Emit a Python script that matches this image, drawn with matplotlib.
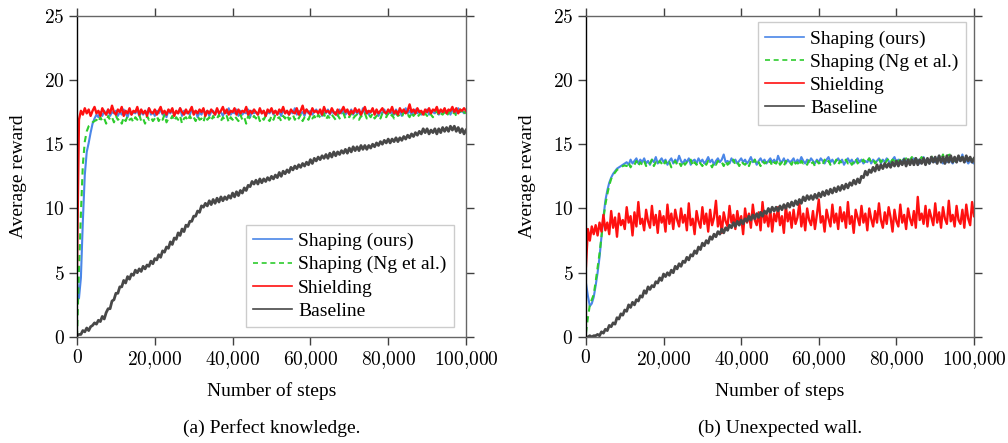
import matplotlib
matplotlib.use('Agg')
import matplotlib.pyplot as plt
import numpy as np
from matplotlib.ticker import FuncFormatter

# 数据：每 500 步一个点（0 ~ 100,000）
STEP = 500

# (a) Perfect knowledge
a_ours = [4.5, 3.0, 4.6, 9.0, 12.6, 14.4, 15.1, 15.9, 16.6, 17.0,
          17.3, 17.1, 17.5, 17.2, 17.6, 17.3, 17.7, 17.2, 17.5, 17.4,
          17.6, 17.2, 17.5, 17.3, 17.7, 17.4, 17.1, 17.6, 17.3, 17.5,
          17.4, 17.7, 17.2, 17.5, 17.3, 17.6, 17.4, 17.8, 17.3, 17.5,
          17.2, 17.6, 17.4, 17.7, 17.3, 17.5, 17.1, 17.6, 17.4, 17.7,
          17.3, 17.5, 17.4, 17.8, 17.2, 17.6, 17.4, 17.5, 17.3, 17.7,
          17.4, 17.6, 17.1, 17.5, 17.3, 17.7, 17.4, 17.6, 17.2, 17.5,
          17.6, 17.3, 17.7, 17.4, 17.5, 17.2, 17.6, 17.4, 17.8, 17.3,
          17.5, 17.4, 17.7, 17.2, 17.6, 17.3, 17.5, 17.4, 17.7, 17.1,
          17.6, 17.4, 17.5, 17.3, 17.7, 17.4, 17.6, 17.2, 17.5, 17.4,
          17.7, 17.3, 17.6, 17.4, 17.5, 17.2, 17.7, 17.4, 17.6, 17.3,
          17.5, 17.4, 17.8, 17.3, 17.6, 17.4, 17.5, 17.2, 17.7, 17.4,
          17.6, 17.3, 17.5, 17.7, 17.4, 17.6, 17.2, 17.5, 17.4, 17.7,
          17.3, 17.6, 17.4, 17.5, 17.2, 17.7, 17.4, 17.6, 17.3, 17.5,
          17.4, 17.7, 17.3, 17.6, 17.4, 17.5, 17.2, 17.8, 17.4, 17.6,
          17.3, 17.5, 17.7, 17.4, 17.6, 17.2, 17.5, 17.4, 17.7, 17.3,
          17.6, 17.4, 17.5, 17.3, 17.7, 17.4, 17.6, 17.2, 17.5, 17.8,
          17.4, 17.6, 17.3, 17.5, 17.7, 17.4, 17.6, 17.3, 17.5, 17.4,
          17.7, 17.3, 17.6, 17.5, 17.4, 17.8, 17.3, 17.6, 17.5, 17.7,
          17.4, 17.6, 17.3, 17.7, 17.5, 17.4, 17.8, 17.5, 17.6, 17.4,
          17.6]

a_ng = [0.0, 5.2, 9.6, 13.4, 15.2, 16.0, 16.4, 16.5, 16.7, 16.8,
        16.9, 16.7, 17.1, 16.8, 17.0, 16.6, 17.2, 16.9, 17.1, 16.7,
        17.2, 16.9, 17.0, 16.6, 17.1, 16.8, 17.2, 16.9, 17.0, 16.7,
        17.1, 16.9, 17.3, 16.8, 17.0, 16.6, 17.2, 16.9, 17.1, 16.8,
        17.0, 17.2, 16.8, 17.1, 16.9, 17.3, 16.7, 17.0, 16.9, 17.2,
        16.8, 17.1, 16.9, 17.2, 16.6, 17.0, 17.1, 16.8, 17.2, 16.9,
        17.1, 16.8, 17.2, 16.9, 17.0, 16.7, 17.3, 16.9, 17.1, 16.8,
        17.2, 16.9, 17.0, 17.3, 16.8, 17.1, 16.9, 17.2, 16.7, 17.1,
        16.9, 17.2, 17.0, 16.8, 17.3, 16.9, 17.1, 16.6, 17.2, 17.0,
        16.9, 17.2, 17.0, 17.3, 16.8, 17.1, 16.9, 17.2, 17.0, 16.8,
        17.2, 16.9, 17.3, 17.0, 17.1, 16.8, 17.2, 17.0, 17.3, 16.9,
        17.1, 17.3, 16.9, 17.2, 17.0, 17.3, 16.8, 17.1, 17.2, 16.9,
        17.3, 17.0, 17.2, 16.9, 17.3, 17.1, 17.0, 17.4, 16.9, 17.2,
        17.0, 17.3, 17.1, 16.9, 17.3, 17.0, 17.2, 17.4, 17.0, 17.2,
        17.1, 17.4, 17.0, 17.2, 17.3, 16.9, 17.2, 17.1, 17.4, 17.0,
        17.3, 17.1, 17.4, 17.0, 17.2, 17.3, 17.0, 17.4, 17.2, 17.1,
        17.4, 17.1, 17.3, 17.0, 17.4, 17.2, 17.3, 17.1, 17.5, 17.2,
        17.3, 17.1, 17.5, 17.2, 17.4, 17.1, 17.3, 17.5, 17.2, 17.4,
        17.2, 17.5, 17.3, 17.1, 17.4, 17.6, 17.2, 17.4, 17.3, 17.5,
        17.2, 17.4, 17.6, 17.3, 17.5, 17.2, 17.4, 17.7, 17.3, 17.5,
        17.4]

a_shield = [5.5, 16.9, 17.6, 17.3, 17.8, 17.4, 17.7, 17.2, 17.6, 17.9,
            17.4, 17.6, 17.2, 17.8, 17.5, 17.3, 17.7, 17.4, 18.0, 17.5,
            17.3, 17.7, 17.5, 17.9, 17.2, 17.6, 17.4, 17.8, 17.3, 17.6,
            17.5, 17.9, 17.3, 17.7, 17.4, 17.6, 17.2, 17.8, 17.5, 17.4,
            17.7, 17.3, 17.6, 17.9, 17.4, 17.6, 17.3, 17.7, 17.5, 17.8,
            17.2, 17.6, 17.4, 17.8, 17.5, 17.3, 17.7, 17.4, 17.6, 17.9,
            17.3, 17.6, 17.4, 17.7, 17.5, 17.8, 17.2, 17.6, 17.4, 17.7,
            17.5, 17.3, 17.8, 17.4, 17.6, 17.9, 17.4, 17.7, 17.3, 17.6,
            17.5, 17.8, 17.3, 17.7, 17.4, 17.6, 17.5, 17.9, 17.3, 17.6,
            17.4, 17.7, 17.5, 17.3, 17.8, 17.4, 17.6, 17.2, 17.7, 17.5,
            17.8, 17.4, 17.6, 17.3, 17.7, 17.5, 17.9, 17.4, 17.6, 17.3,
            17.7, 17.5, 17.4, 17.8, 17.3, 17.6, 18.0, 17.4, 17.7, 17.5,
            17.3, 17.8, 17.5, 17.6, 17.4, 17.7, 17.3, 17.9, 17.5, 17.6,
            17.4, 17.8, 17.5, 17.3, 17.7, 17.4, 17.6, 17.9, 17.5, 17.7,
            17.3, 17.6, 17.4, 17.8, 17.5, 17.7, 17.3, 17.6, 17.9, 17.4,
            17.6, 17.5, 17.8, 17.3, 17.7, 17.4, 17.6, 17.8, 17.5, 17.4,
            17.7, 17.5, 17.9, 17.4, 17.6, 17.3, 17.8, 17.5, 17.7, 17.4,
            17.6, 18.1, 17.5, 17.7, 17.4, 17.8, 17.5, 17.6, 17.3, 17.7,
            17.5, 17.8, 17.4, 17.7, 17.6, 17.9, 17.4, 17.7, 17.5, 17.8,
            17.4, 17.7, 17.6, 17.9, 17.5, 17.8, 17.4, 17.7, 17.6, 17.8,
            17.6]

a_base = [0.1, 0.2, 0.2, 0.5, 0.4, 0.7, 0.5, 0.8, 0.9, 1.1,
          1.0, 1.3, 1.2, 1.6, 1.4, 1.9, 2.2, 2.2, 2.8, 2.9,
          3.4, 3.4, 3.9, 3.9, 4.4, 4.2, 4.7, 4.5, 4.9, 4.8,
          5.2, 5.0, 5.3, 5.1, 5.5, 5.3, 5.6, 5.5, 5.9, 5.7,
          6.1, 6.0, 6.4, 6.2, 6.7, 6.6, 7.0, 6.9, 7.4, 7.2,
          7.7, 7.6, 8.1, 7.9, 8.4, 8.2, 8.7, 8.6, 9.0, 9.0,
          9.4, 9.4, 9.8, 9.7, 10.2, 10.1, 10.4, 10.2, 10.6, 10.3,
          10.7, 10.4, 10.8, 10.5, 10.9, 10.6, 10.9, 10.7, 11.0, 10.8,
          11.2, 10.9, 11.3, 11.0, 11.4, 11.2, 11.6, 11.4, 11.8, 11.7,
          12.1, 11.9, 12.2, 11.9, 12.3, 12.0, 12.3, 12.1, 12.4, 12.2,
          12.5, 12.3, 12.6, 12.4, 12.8, 12.5, 12.9, 12.7, 13.0, 12.8,
          13.2, 13.0, 13.3, 13.1, 13.4, 13.2, 13.5, 13.3, 13.6, 13.4,
          13.8, 13.5, 13.9, 13.7, 14.0, 13.8, 14.1, 13.9, 14.2, 13.9,
          14.3, 14.0, 14.4, 14.1, 14.4, 14.2, 14.5, 14.3, 14.6, 14.3,
          14.7, 14.4, 14.8, 14.5, 14.8, 14.5, 14.9, 14.6, 14.9, 14.6,
          14.9, 14.7, 15.0, 14.8, 15.1, 14.9, 15.2, 15.0, 15.3, 15.1,
          15.4, 15.1, 15.4, 15.2, 15.5, 15.2, 15.5, 15.3, 15.6, 15.4,
          15.7, 15.5, 15.8, 15.6, 15.9, 15.7, 16.0, 15.8, 16.2, 15.9,
          16.2, 15.8, 16.1, 15.9, 16.2, 15.8, 16.2, 15.9, 16.3, 16.0,
          16.3, 16.0, 16.4, 16.1, 16.4, 16.0, 16.3, 15.9, 16.2, 15.8,
          16.1]

# (b) Unexpected wall
b_ours = [4.2, 3.2, 2.4, 2.6, 3.1, 4.0, 5.0, 6.2, 7.8, 9.3,
          10.6, 11.4, 12.0, 12.4, 12.7, 12.9, 13.1, 13.2, 13.3, 13.4,
          13.5, 13.6, 13.4, 13.8, 13.5, 13.7, 13.9, 13.5, 13.8, 13.6,
          13.9, 13.5, 13.7, 13.4, 13.8, 13.6, 14.0, 13.5, 13.7, 13.9,
          13.6, 13.8, 13.4, 13.7, 13.9, 13.5, 13.8, 13.6, 14.1, 13.7,
          13.5, 13.8, 13.6, 13.9, 13.4, 13.7, 13.8, 13.5, 13.9, 13.6,
          13.8, 13.5, 13.7, 14.0, 13.6, 13.8, 13.4, 13.7, 13.9, 13.6,
          13.8, 14.2, 13.6, 13.7, 13.5, 13.9, 13.6, 13.8, 13.5, 13.7,
          13.9, 13.6, 13.8, 13.5, 13.7, 14.0, 13.6, 13.8, 13.4, 13.7,
          13.9, 13.6, 13.8, 13.5, 13.7, 13.9, 13.6, 13.8, 13.5, 14.1,
          13.7, 13.6, 13.9, 13.5, 13.8, 13.6, 13.7, 13.9, 13.5, 13.8,
          13.6, 14.0, 13.7, 13.5, 13.8, 13.6, 13.9, 13.7, 13.5, 13.8,
          13.6, 13.9, 13.7, 13.5, 13.8, 14.0, 13.6, 13.8, 13.5, 13.7,
          13.9, 13.6, 13.8, 13.4, 13.7, 13.9, 13.6, 13.8, 13.5, 13.7,
          13.9, 13.6, 13.8, 13.5, 13.7, 13.6, 13.9, 13.5, 13.8, 13.6,
          13.7, 13.9, 13.5, 13.8, 13.6, 13.9, 13.7, 13.5, 13.8, 14.0,
          13.6, 13.8, 13.5, 13.7, 13.9, 13.6, 13.8, 13.5, 13.7, 13.9,
          13.6, 13.8, 13.5, 13.7, 14.0, 13.6, 13.8, 13.5, 13.7, 13.9,
          13.6, 13.8, 14.1, 13.7, 13.5, 13.8, 13.6, 13.9, 13.7, 13.5,
          13.8, 13.6, 13.9, 13.7, 14.2, 13.6, 13.8, 13.5, 13.7, 13.6,
          13.5]

b_ng = [0.3, 1.5, 2.5, 2.9, 3.3, 4.3, 5.4, 6.5, 7.8, 9.2,
        10.3, 11.1, 11.8, 12.3, 12.6, 12.8, 13.0, 13.1, 13.2, 13.3,
        13.35, 13.3, 13.6, 13.2, 13.5, 13.4, 13.7, 13.3, 13.6, 13.4,
        13.7, 13.3, 13.6, 13.5, 13.8, 13.3, 13.6, 13.4, 13.7, 13.5,
        13.3, 13.7, 13.4, 13.6, 13.2, 13.5, 13.7, 13.4, 13.6, 13.3,
        13.7, 13.4, 13.6, 13.5, 13.8, 13.3, 13.6, 13.4, 13.7, 13.5,
        13.3, 13.6, 13.4, 13.7, 13.5, 13.2, 13.6, 13.4, 13.7, 13.5,
        13.6, 13.3, 13.7, 13.4, 13.6, 13.5, 13.8, 13.4, 13.6, 13.3,
        13.7, 13.5, 13.4, 13.6, 13.3, 13.7, 13.5, 13.8, 13.4, 13.6,
        13.3, 13.7, 13.5, 13.6, 13.4, 13.7, 13.3, 13.6, 13.5, 13.8,
        13.4, 13.6, 13.3, 13.7, 13.5, 13.6, 13.4, 13.8, 13.5, 13.6,
        13.3, 13.7, 13.5, 13.6, 13.4, 13.8, 13.5, 13.6, 13.3, 13.7,
        13.5, 13.6, 13.4, 13.8, 13.5, 13.7, 13.4, 13.6, 13.5, 13.8,
        13.4, 13.7, 13.5, 13.6, 13.8, 13.5, 13.7, 13.4, 13.6, 13.9,
        13.5, 13.7, 13.6, 13.8, 13.5, 13.7, 13.9, 13.6, 13.8, 13.5,
        13.7, 13.9, 13.6, 13.8, 13.5, 13.7, 13.9, 13.6, 13.8, 13.7,
        13.9, 13.6, 13.8, 14.0, 13.7, 13.9, 13.6, 13.8, 14.0, 13.7,
        13.9, 13.6, 13.8, 14.0, 13.7, 13.9, 13.6, 13.8, 14.1, 13.7,
        13.9, 13.7, 14.0, 13.8, 14.2, 13.7, 13.9, 14.4, 13.8, 14.0,
        13.7, 13.9, 14.1, 13.8, 14.0, 13.7, 13.9, 13.8, 14.0, 13.7,
        13.9]

b_shield = [5.5, 8.4, 7.5, 8.6, 8.0, 8.7, 7.9, 8.9, 8.2, 9.5,
            8.3, 8.9, 8.0, 9.8, 8.5, 9.3, 7.8, 9.6, 8.7, 9.1,
            8.4, 10.1, 8.9, 9.4, 7.9, 9.7, 8.6, 10.5, 8.8, 9.2,
            8.3, 9.9, 9.0, 8.5, 10.2, 8.7, 9.5, 8.1, 9.8, 8.9,
            9.4, 8.2, 10.3, 8.8, 9.6, 8.4, 9.9, 9.1, 8.6, 10.0,
            8.9, 9.5, 8.3, 10.4, 8.7, 9.2, 8.0, 9.8, 9.0, 8.5,
            10.1, 8.8, 9.6, 8.2, 9.9, 8.7, 9.3, 10.6, 8.6, 9.4,
            8.1, 9.7, 9.0, 8.6, 10.2, 8.9, 9.5, 8.4, 9.8, 8.8,
            9.4, 8.0, 10.0, 8.9, 9.6, 8.5, 10.3, 9.1, 8.7, 9.7,
            8.3, 10.5, 8.9, 9.5, 8.6, 9.9, 8.2, 9.6, 9.0, 10.1,
            8.7, 9.4, 8.1, 10.2, 9.0, 9.7, 8.5, 9.9, 8.8, 9.3,
            10.4, 8.6, 9.6, 8.3, 10.0, 9.1, 8.7, 9.8, 8.4, 9.5,
            10.7, 8.9, 9.4, 8.2, 9.9, 9.2, 8.6, 10.3, 8.9, 9.6,
            8.4, 10.1, 9.0, 9.7, 8.5, 10.5, 8.8, 9.4, 8.1, 9.9,
            9.3, 8.7, 10.2, 8.9, 9.6, 8.3, 10.0, 9.2, 8.6, 9.8,
            8.9, 10.4, 9.1, 8.5, 9.7, 8.8, 10.1, 9.3, 8.2, 9.9,
            9.0, 8.6, 10.3, 8.9, 9.5, 8.4, 10.0, 9.2, 8.7, 9.8,
            8.5, 10.9, 9.1, 9.6, 8.8, 10.2, 8.6, 9.9, 9.3, 8.7,
            10.4, 8.9, 9.7, 8.5, 10.1, 9.2, 8.8, 10.6, 9.0, 9.5,
            8.6, 10.2, 9.1, 8.8, 9.9, 8.5, 10.3, 9.2, 8.7, 10.5,
            9.4]

b_base = [0.0, 0.0, 0.1, 0.0, 0.1, 0.1, 0.2, 0.1, 0.4, 0.3,
          0.6, 0.5, 0.9, 0.8, 1.1, 1.0, 1.5, 1.4, 1.8, 1.7,
          2.1, 2.0, 2.5, 2.3, 2.7, 2.5, 2.9, 2.8, 3.2, 3.1,
          3.6, 3.4, 3.9, 3.7, 4.0, 3.9, 4.3, 4.2, 4.6, 4.4,
          4.9, 4.7, 5.0, 4.8, 5.2, 5.0, 5.5, 5.3, 5.7, 5.5,
          5.9, 5.8, 6.2, 6.0, 6.4, 6.3, 6.7, 6.5, 7.0, 6.8,
          7.3, 7.1, 7.5, 7.3, 7.8, 7.6, 8.0, 7.8, 8.2, 8.0,
          8.4, 8.1, 8.5, 8.3, 8.7, 8.5, 8.9, 8.6, 9.0, 8.7,
          9.1, 8.8, 9.2, 9.0, 9.4, 9.1, 9.5, 9.2, 9.6, 9.3,
          9.7, 9.4, 9.8, 9.6, 10.0, 9.7, 10.1, 9.8, 10.1, 9.8,
          10.2, 9.9, 10.3, 10.0, 10.4, 10.1, 10.5, 10.2, 10.6, 10.3,
          10.7, 10.4, 10.9, 10.6, 11.0, 10.7, 11.0, 10.7, 11.1, 10.8,
          11.2, 10.9, 11.3, 11.0, 11.4, 11.1, 11.5, 11.2, 11.6, 11.3,
          11.7, 11.4, 11.8, 11.5, 11.9, 11.6, 12.0, 11.8, 12.2, 11.9,
          12.3, 12.0, 12.5, 12.4, 12.9, 12.6, 13.0, 12.8, 13.2, 12.9,
          13.4, 13.0, 13.4, 13.1, 13.5, 13.2, 13.5, 13.2, 13.6, 13.3,
          13.7, 13.3, 13.7, 13.4, 13.8, 13.3, 13.8, 13.4, 13.8, 13.4,
          13.9, 13.4, 13.8, 13.5, 13.9, 13.4, 13.9, 13.5, 14.0, 13.6,
          14.0, 13.5, 14.1, 13.6, 14.0, 13.5, 14.1, 13.6, 14.1, 13.6,
          14.0, 13.6, 14.1, 13.7, 14.0, 13.6, 14.1, 13.7, 14.0, 13.6,
          13.9]

series_labels = ['Shaping (ours)', 'Shaping (Ng et al.)', 'Shielding', 'Baseline']
x_ticks = [0, 20000, 40000, 60000, 80000, 100000]
y_ticks = [0, 5, 10, 15, 20, 25]
captions = ['(a) Perfect knowledge.', '(b) Unexpected wall.']

# 字体设置
plt.rcParams['font.family'] = 'serif'
plt.rcParams['font.serif'] = ['Liberation Serif', 'DejaVu Serif']
plt.rcParams['mathtext.fontset'] = 'cm'
plt.rcParams['font.size'] = 14

colors = ['#4a86e8', '#2ecc2e', '#ff1010', '#484848']


def fmt_x(v, pos):
    return r'$' + '{:,}'.format(int(v)).replace(',', '{,}') + r'$'


def fmt_y(v, pos):
    return r'$%d$' % int(v)


def draw_panel(ax, ours, ng, shield, base, legend_loc, legend_anchor):
    ax.plot(np.arange(len(ours)) * STEP, ours, color=colors[0], lw=1.5, label=series_labels[0])
    ax.plot(np.arange(len(ng)) * STEP, ng, color=colors[1], lw=1.5, ls=(0, (3.0, 2.2)),
            label=series_labels[1])
    ax.plot(np.arange(len(shield)) * STEP, shield, color=colors[2], lw=1.7, label=series_labels[2])
    ax.plot(np.arange(len(base)) * STEP, base, color=colors[3], lw=2.0, label=series_labels[3])

    ax.set_xlim(0, 100000)
    ax.set_ylim(0, 25)
    ax.set_xticks(x_ticks)
    ax.set_yticks(y_ticks)
    ax.xaxis.set_major_formatter(FuncFormatter(fmt_x))
    ax.yaxis.set_major_formatter(FuncFormatter(fmt_y))
    ax.tick_params(direction='out', length=6, width=1, color='#404040',
                   top=True, right=True, labelsize=14, pad=3)
    for s in ['top', 'right', 'bottom']:
        ax.spines[s].set_color('#666666')
        ax.spines[s].set_linewidth(1.0)
    ax.spines['left'].set_color('black')
    ax.spines['left'].set_linewidth(1.0)

    ax.set_xlabel('Number of steps', fontsize=14, labelpad=8)
    ax.set_ylabel('Average reward', fontsize=14, labelpad=12)

    leg = ax.legend(loc=legend_loc, bbox_to_anchor=legend_anchor, fontsize=14,
                    frameon=True, fancybox=False, edgecolor='#cccccc', framealpha=1,
                    handlelength=2.0, handletextpad=0.3, labelspacing=0.28,
                    borderpad=0.4, borderaxespad=0)
    leg.get_frame().set_linewidth(1.0)
    for h in leg.get_lines():
        h.set_linewidth(1.2)


fig = plt.figure(figsize=(10.08, 4.43), dpi=100)
ax1 = fig.add_axes([0.0764, 0.2393, 0.3859, 0.7253])
ax2 = fig.add_axes([0.5813, 0.2393, 0.3850, 0.7253])

draw_panel(ax1, a_ours, a_ng, a_shield, a_base, 'lower right', (0.97, 0.03))
draw_panel(ax2, b_ours, b_ng, b_shield, b_base, 'upper right', (0.98, 0.98))

fig.text(0.270, 0.034, captions[0], ha='center', va='center', fontsize=14)
fig.text(0.774, 0.034, captions[1], ha='center', va='center', fontsize=14)

fig.savefig('out.png', dpi=100)
